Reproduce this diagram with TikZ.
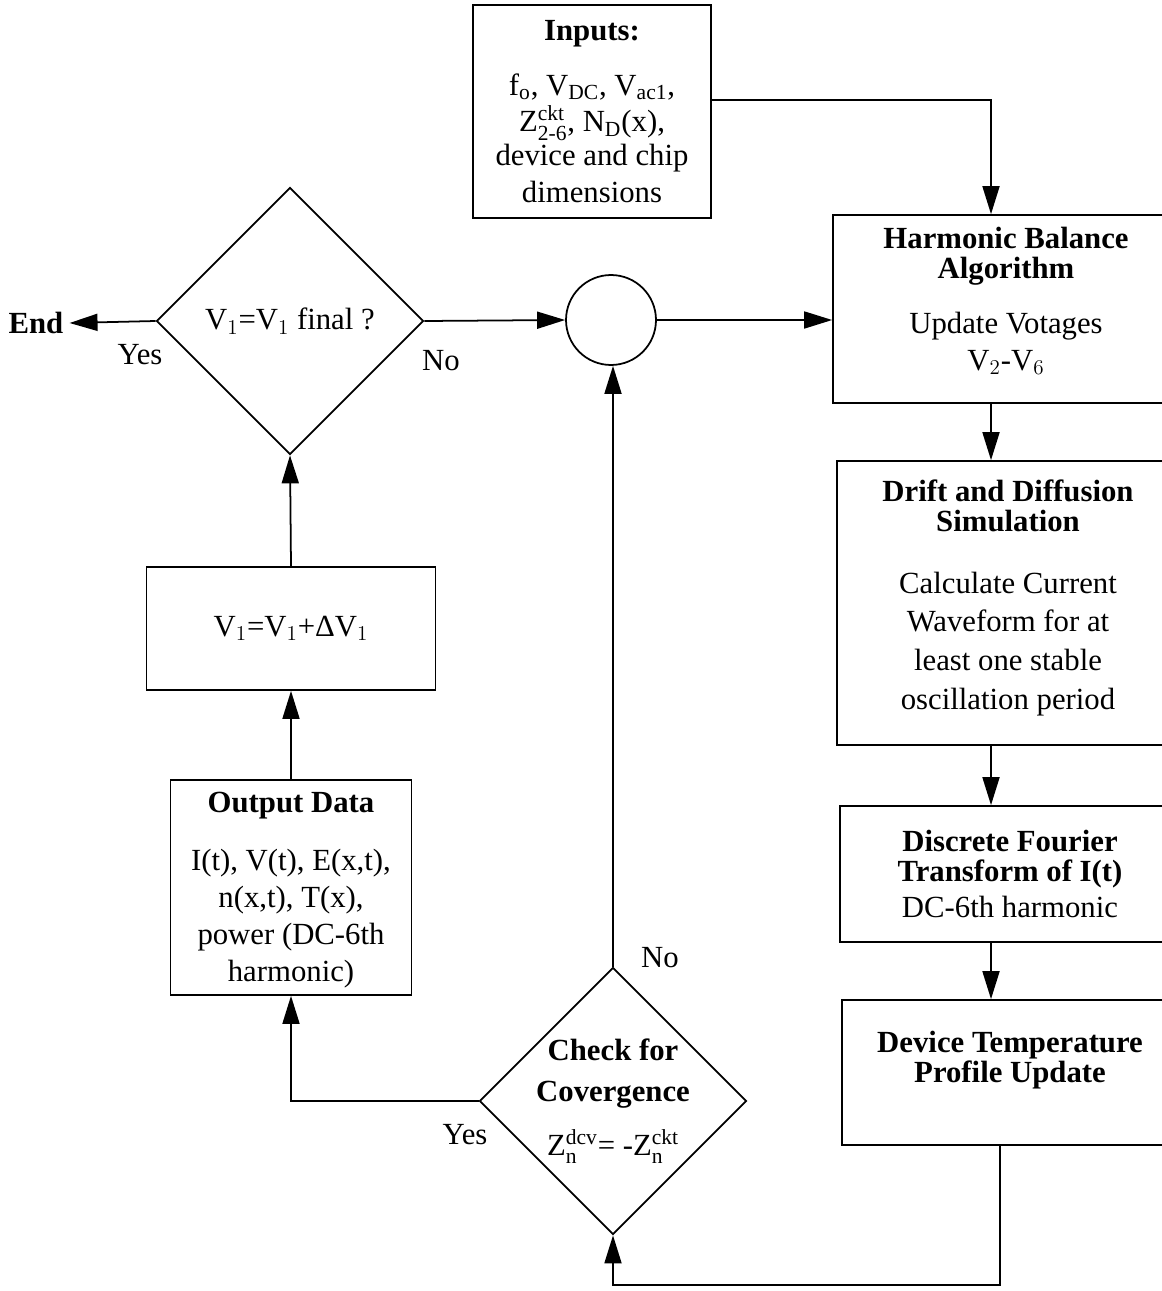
\documentclass[tikz,border=0pt]{standalone}
\usepackage{amsmath}
\usepackage{fontspec}
\setmainfont{Liberation Serif}
\usetikzlibrary{shapes.geometric,arrows.meta}
\tikzset{
  box/.style={draw,line width=1pt,align=center,font=\fontsize{17.5}{21}\selectfont},
  decision/.style={draw,diamond,line width=1pt,inner sep=-10pt,align=center,
    minimum width=5.34cm,minimum height=5.34cm,font=\fontsize{17.5}{21}\selectfont},
  lbl/.style={font=\fontsize{17.5}{21}\selectfont},
  arr/.style={line width=1pt,-{Triangle[length=0.56cm,width=0.34cm]}}
}
\begin{document}
\begin{tikzpicture}[x=0.02cm,y=-0.02cm]
\useasboundingbox (0,0) rectangle (1161,1291);
% right column
\node[box,minimum width=4.76cm,minimum height=4.26cm] (inputs) at (592,111.5)
  {\textbf{Inputs:}\\[10pt] f$_\mathrm{o}$, V$_\mathrm{DC}$, V$_\mathrm{ac1}$,\\
   Z$^\mathrm{ckt}_{\mathrm{2\text{-}6}}$, N$_\mathrm{D}$(x),\\[-2pt] device and chip\\ dimensions};
\node[box,minimum width=6.94cm,minimum height=3.76cm] (harm) at (1006.5,309) {};
\node[lbl,align=center] (harmlabel) at (1006,301)
  {\textbf{Harmonic Balance}\\[-4pt] \textbf{Algorithm}\\[10pt] Update Votages\\ V$_2$-V$_6$};
\node[box,minimum width=6.86cm,minimum height=5.68cm] (drift) at (1008.5,603) {};
\node[lbl,align=center] (driftlabel) at (1008,598)
  {\textbf{Drift and Diffusion}\\[-4pt] \textbf{Simulation}\\[14pt] Calculate Current\\[1pt]
   Waveform for at\\[1pt] least one stable\\[1pt] oscillation period};
\node[box,minimum width=6.8cm,minimum height=2.72cm] (dft) at (1010,874)
  {\textbf{Discrete Fourier}\\[-4pt] \textbf{Transform of I(t)}\\ DC-6th harmonic};
\node[box,minimum width=6.76cm,minimum height=2.9cm] (temp) at (1011,1072.5) {};
\node[lbl,align=center] (templabel) at (1010,1060)
  {\textbf{Device Temperature}\\[-4pt] \textbf{Profile Update}};
% left part
\node[draw,circle,line width=1pt,minimum size=1.8cm] (merge) at (611,320) {};
\node[decision] (final) at (290,321) {V$_1$=V$_1$ final ?};
\node[box,minimum width=5.78cm,minimum height=2.46cm] (step) at (291,628.5)
  {V$_1$=V$_1$+ΔV$_1$};
\node[box,minimum width=4.82cm,minimum height=4.3cm] (out) at (291,887.5) {};
\node[lbl,align=center] (outlabel) at (291,890)
  {\textbf{Output Data}\\[12pt] I(t), V(t), E(x,t),\\[0pt] n(x,t), T(x),\\[0pt]
   power (DC-6th\\[0pt] harmonic)};
\node[decision] (check) at (613,1101)
  {\textbf{Check for}\\[2pt] \textbf{Covergence}\\[10pt]
   Z$^\mathrm{dcv}_\mathrm{n}$= -Z$^\mathrm{ckt}_\mathrm{n}$};
\node[lbl,font=\fontsize{17.5}{21}\selectfont\bfseries] (end) at (36,323) {End};
\node[lbl] (yes1) at (140,355) {Yes};
\node[lbl] (no1) at (441,361) {No};
\node[lbl] (no2) at (660,958) {No};
\node[lbl] (yes2) at (465,1135) {Yes};
\coordinate (col) at (991,0);
\coordinate (feed) at (991,100);
\coordinate (loop) at (1000,1285);

\draw[arr] (final.west) -- (end.east);
\draw[arr] (final.east) -- (merge.west);
\draw[arr] (merge.east) -- (harm.west |- merge.east);
\draw[arr] (inputs.east |- feed) -- (feed) -- (harm.north -| feed);
\draw[arr] (harm.south -| col) -- (drift.north -| col);
\draw[arr] (drift.south -| col) -- (dft.north -| col);
\draw[arr] (dft.south -| col) -- (temp.north -| col);
\draw[arr] (temp.south -| loop) -- (loop) -| (check.south);
\draw[arr] (check.north) -- (merge.south -| check.north);
\draw[arr] (check.west) -| (out.south);
\draw[arr] (out.north) -- (step.south);
\draw[arr] (step.north) -- (final.south);

\end{tikzpicture}
\end{document}
